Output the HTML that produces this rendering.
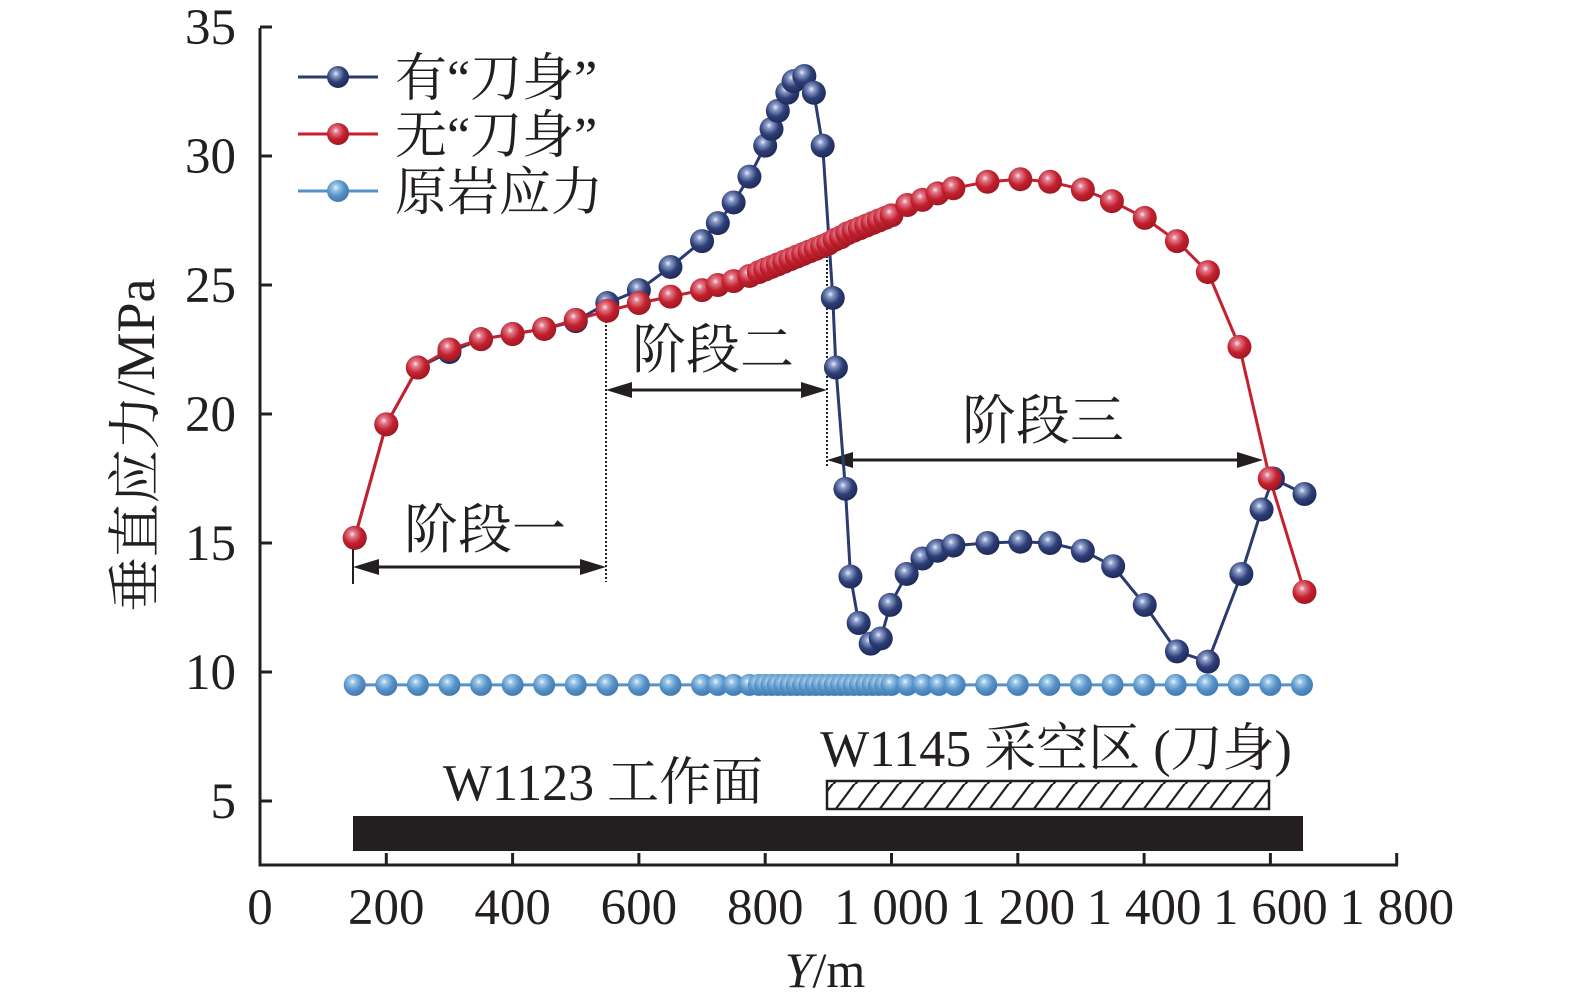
<!DOCTYPE html>
<html><head><meta charset="utf-8"><style>
html,body{margin:0;padding:0;background:#fff;}
svg{display:block;}
text{font-family:"Liberation Serif","Noto Serif CJK SC",serif;fill:#231f20;}
</style></head><body>
<svg id="chart" width="1575" height="1008" viewBox="0 0 1575 1008" xmlns="http://www.w3.org/2000/svg">
<defs>
<radialGradient id="gBlue" cx="0.4" cy="0.35" r="0.65"><stop offset="0" stop-color="#e8eefa"/><stop offset="0.2" stop-color="#8a9cc8"/><stop offset="0.6" stop-color="#2e3f78"/><stop offset="1" stop-color="#1e2a58"/></radialGradient>
<radialGradient id="gRed" cx="0.4" cy="0.35" r="0.65"><stop offset="0" stop-color="#fbe4ea"/><stop offset="0.2" stop-color="#e07a8a"/><stop offset="0.6" stop-color="#c4202e"/><stop offset="1" stop-color="#a01822"/></radialGradient>
<radialGradient id="gLight" cx="0.4" cy="0.35" r="0.65"><stop offset="0" stop-color="#eef6fc"/><stop offset="0.2" stop-color="#9cc6e6"/><stop offset="0.6" stop-color="#5592c8"/><stop offset="1" stop-color="#4479b0"/></radialGradient>
<pattern id="hatch" patternUnits="userSpaceOnUse" width="22" height="28"><path d="M-4,30 L20,-2 M18,30 L42,-2" stroke="#231f20" stroke-width="2.2"/></pattern>
</defs>
<g id="axes"></g>
<g id="annot"></g>
<g id="series"></g>
<g id="legend"></g>
</svg>
<script>
const xTicks=[0,200,400,600,800,1000,1200,1400,1600,1800];
const xTickLabels=["0","200","400","600","800","1 000","1 200","1 400","1 600","1 800"];
const yTicks=[5,10,15,20,25,30,35];
const yTickLabels=["5","10","15","20","25","30","35"];
const withX=[150,200,250,300,350,400,450,500,550,600,650,700,725,750,775,800,810,820,835,845,862,877,891,907,912,927,935,948,967,983,998,1024,1049,1073,1098,1152,1204,1251,1303,1351,1401,1452,1501,1554,1586,1604,1654];
const withY=[15.2,19.6,21.8,22.4,22.9,23.1,23.3,23.6,24.3,24.8,25.7,26.7,27.4,28.2,29.2,30.4,31.05,31.75,32.45,32.9,33.1,32.45,30.4,24.5,21.8,17.1,13.7,11.9,11.1,11.3,12.6,13.8,14.4,14.7,14.9,15.0,15.05,15.0,14.7,14.1,12.6,10.8,10.4,13.8,16.3,17.5,16.9];
const withoutX=[150,200,250,300,350,400,450,500,550,600,650,700,725,750,775,790,800,810,820,830,840,850,860,870,880,890,900,910,920,930,940,950,960,970,980,990,1000,1025,1049,1073,1098,1152,1204,1251,1303,1349,1401,1452,1501,1551,1599,1654];
const withoutY=[15.2,19.6,21.8,22.5,22.9,23.1,23.3,23.65,24.0,24.3,24.55,24.8,25.0,25.15,25.35,25.5,25.6,25.7,25.8,25.9,26.0,26.1,26.2,26.3,26.4,26.5,26.6,26.75,26.85,27.0,27.1,27.2,27.3,27.4,27.5,27.6,27.7,28.1,28.3,28.55,28.75,29.0,29.1,29.0,28.7,28.25,27.6,26.7,25.5,22.6,17.5,13.1];
const rockX=[150,200,250,300,350,400,450,500,550,600,650,700,725,750,775,790,800,810,820,830,840,850,860,870,880,890,900,910,920,930,940,950,960,970,980,990,1000,1025,1050,1075,1100,1150,1200,1250,1300,1350,1400,1450,1500,1550,1600,1650];
const rockY=[9.5,9.5,9.5,9.5,9.5,9.5,9.5,9.5,9.5,9.5,9.5,9.5,9.5,9.5,9.5,9.5,9.5,9.5,9.5,9.5,9.5,9.5,9.5,9.5,9.5,9.5,9.5,9.5,9.5,9.5,9.5,9.5,9.5,9.5,9.5,9.5,9.5,9.5,9.5,9.5,9.5,9.5,9.5,9.5,9.5,9.5,9.5,9.5,9.5,9.5,9.5,9.5];

const NS="http://www.w3.org/2000/svg";
function X(v){return 260+v*0.6315;}
function Y(v){return 672-(v-10)*25.8;}
function mk(tag,attrs,parent){const e=document.createElementNS(NS,tag);for(const k in attrs)e.setAttribute(k,attrs[k]);parent.appendChild(e);return e;}
const axes=document.getElementById('axes'),annot=document.getElementById('annot'),series=document.getElementById('series'),legend=document.getElementById('legend');
const y0=865;
let e=mk('line',{x1:260,y1:y0,x2:1398,y2:y0,stroke:'#231f20','stroke-width':3},axes);


e=mk('line',{x1:260,y1:28,x2:260,y2:y0+1.5,stroke:'#231f20','stroke-width':3},axes);


xTicks.forEach((v,i)=>{
  if(v>0){const t=mk('line',{x1:X(v),y1:y0,x2:X(v),y2:y0-12,stroke:'#231f20','stroke-width':3},axes);
  
  }
  const l=mk('text',{x:X(v),y:924,'text-anchor':'middle','font-size':51},axes);l.textContent=xTickLabels[i];
  
  
});
yTicks.forEach((v,i)=>{
  const t=mk('line',{x1:260,y1:Y(v),x2:272,y2:Y(v),stroke:'#231f20','stroke-width':3},axes);
  
  
  const l=mk('text',{x:236,y:Y(v)+17,'text-anchor':'end','font-size':51},axes);l.textContent=yTickLabels[i];
  
  
});
let yt=mk('text',{x:0,y:0,'text-anchor':'middle','font-size':54,transform:'translate(154,445) rotate(-90)'},axes);
yt.textContent='垂直应力/MPa';


let xt=mk('text',{x:825,y:987,'text-anchor':'middle','font-size':50},axes);
xt.innerHTML='<tspan font-style="italic">Y</tspan>/m';



function arrow(x1,x2,y,name){
  const g=mk('g',{},annot);
  
  
  mk('line',{x1:x1+20,y1:y,x2:x2-20,y2:y,stroke:'#231f20','stroke-width':3},g);
  mk('polygon',{points:`${x1},${y} ${x1+26},${y-8} ${x1+26},${y+8}`,fill:'#231f20'},g);
  mk('polygon',{points:`${x2},${y} ${x2-26},${y-8} ${x2-26},${y+8}`,fill:'#231f20'},g);
}
function vdot(x,yA,yB,name){const l=mk('line',{x1:x,y1:yA,x2:x,y2:yB,stroke:'#231f20','stroke-width':2,'stroke-dasharray':'2,2'},annot);
  
  }
function label(txt,x,y,size,name){const t=mk('text',{x:x,y:y,'text-anchor':'middle','font-size':size},annot);t.textContent=txt;
  
  }
vdot(606,305,582,'stage1-boundary');
vdot(827,240,468,'stage2-boundary');
let sl=mk('line',{x1:353,y1:548,x2:353,y2:584,stroke:'#231f20','stroke-width':2},annot);


arrow(353,606,567,'stage1-arrow');
arrow(606,827,390,'stage2-arrow');
arrow(827,1263,460,'stage3-arrow');
label('阶段一',485,548,54,'stage1-label');
label('阶段二',713,368,54,'stage2-label');
label('阶段三',1043,439,54,'stage3-label');
let bar=mk('rect',{x:353,y:816,width:950,height:35,fill:'#231f20'},annot);


let hb=mk('rect',{x:827,y:781,width:442,height:28,fill:'url(#hatch)',stroke:'#231f20','stroke-width':2.5},annot);


label('W1123 工作面',603,800,52,'w1123-label');
label('W1145 采空区 (刀身)',1056,766,52,'w1145-label');

function drawSeries(xs,ys,color,grad,r,name){
  const g=mk('g',{},series);
  
  
  const pts=xs.map((x,i)=>X(x).toFixed(1)+','+Y(ys[i]).toFixed(1)).join(' ');
  mk('polyline',{points:pts,fill:'none',stroke:color,'stroke-width':3},g);
  xs.forEach((x,i)=>{
    const c=mk('circle',{cx:X(x),cy:Y(ys[i]),r:r,fill:'url(#'+grad+')'},g);
    
    
  });
}
drawSeries(rockX,rockY,'#5592c8','gLight',11,'rock-stress-series');
drawSeries(withX,withY,'#2b3a70','gBlue',12,'with-blade-series');
drawSeries(withoutX,withoutY,'#c4202e','gRed',12,'without-blade-series');

const leg=[['有“刀身”','#2b3a70','gBlue'],['无“刀身”','#c4202e','gRed'],['原岩应力','#5592c8','gLight']];
leg.forEach((d,i)=>{
  const y=77+i*57;
  const g=mk('g',{},legend);
  
  
  mk('line',{x1:298,y1:y,x2:378,y2:y,stroke:d[1],'stroke-width':3},g);
  mk('circle',{cx:338,cy:y,r:11,fill:'url(#'+d[2]+')'},g);
  const t=mk('text',{x:395,y:y+19,'font-size':52},g);t.textContent=d[0];
});
</script>
</body></html>
